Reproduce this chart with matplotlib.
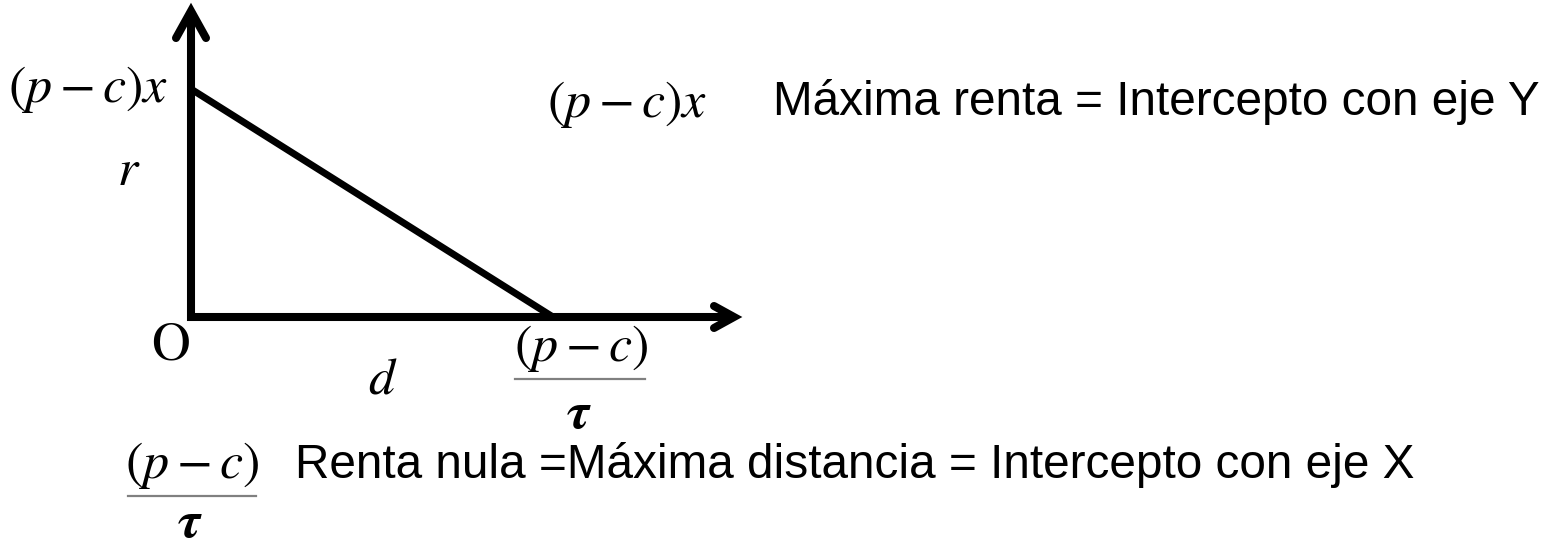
import matplotlib
matplotlib.use("Agg")
import matplotlib.pyplot as plt

plt.rcParams["mathtext.fontset"] = "stix"
plt.rcParams["font.family"] = ["Liberation Sans", "DejaVu Sans"]

# Bid-rent line: rent r falls linearly with distance d
rent_max = 1.0          # (p - c)x, intercept with the r axis
dist_max = 1.0          # (p - c)/tau, intercept with the d axis
distance = [0.0, dist_max]
rent = [rent_max, 0.0]

W, H = 1564, 548
fig = plt.figure(figsize=(W / 100, H / 100), dpi=100)
ax = fig.add_axes([0, 0, 1, 1])
ax.axis("off")

# data scale: origin sits at pixel (191, 317)
sx, sy = 362.0, 228.0
ox, oy = 191.0, 317.0
ax.set_xlim(-ox / sx, (W - ox) / sx)
ax.set_ylim(-(H - oy) / sy, oy / sy)


def fx(px):
    return px / W


def fy(py):
    return 1 - py / H


# axes with chevron arrow heads
y_top = 1.342 * rent_max
x_right = 1.5 * dist_max
axis_lw = 5.8
ax.plot([0, 0, x_right], [y_top, 0, 0], color="black", lw=axis_lw,
        solid_joinstyle="miter", solid_capstyle="butt")
hx, hy = 15 / sx, 27 / sy
ax.plot([-hx, 0, hx], [y_top - hy, y_top, y_top - hy], color="black",
        lw=axis_lw, solid_capstyle="round", solid_joinstyle="miter")
ax.plot([x_right - 20 / sx, x_right, x_right - 20 / sx],
        [11 / sy, 0, -11 / sy], color="black", lw=axis_lw,
        solid_capstyle="round", solid_joinstyle="miter")

# rent line
ax.plot(distance, rent, color="black", lw=5.0, solid_capstyle="butt")

mfs = 37.5
# axis labels
fig.text(fx(168), fy(102), r"$(p-c)x$", fontsize=mfs, ha="right", va="baseline")
fig.text(fx(129), fy(185), r"$r$", fontsize=mfs, ha="center", va="baseline")
fig.text(fx(170), fy(360), r"$\mathrm{O}$", fontsize=mfs + 1, ha="center",
         va="baseline")
fig.text(fx(383), fy(393), r"$d$", fontsize=mfs, ha="center", va="baseline")


def fraction(cx, num_base, line_y, den_base, x0, x1):
    fig.text(fx(cx), fy(num_base), r"$(p-c)$", fontsize=mfs, ha="center",
             va="baseline")
    fig.add_artist(plt.Line2D([fx(x0), fx(x1)], [fy(line_y), fy(line_y)],
                              color="#808080", lw=1.6))
    fig.text(fx(cx - 2), fy(den_base), r"$\boldsymbol{\tau}$", fontsize=mfs,
             ha="center", va="baseline")


fraction(581, 361, 379, 428, 515, 645)
fraction(192, 478, 496, 537, 128, 256)

# explanatory notes
fig.text(fx(547), fy(117), r"$(p-c)x$", fontsize=mfs, ha="left", va="baseline")
fig.text(fx(773), fy(115), "Máxima renta = Intercepto con eje Y",
         fontsize=34.4, ha="left", va="baseline")
fig.text(fx(295), fy(478), "Renta nula =Máxima distancia = Intercepto con eje X",
         fontsize=34.4, ha="left", va="baseline")

fig.savefig("out.png", dpi=100, facecolor="white")
